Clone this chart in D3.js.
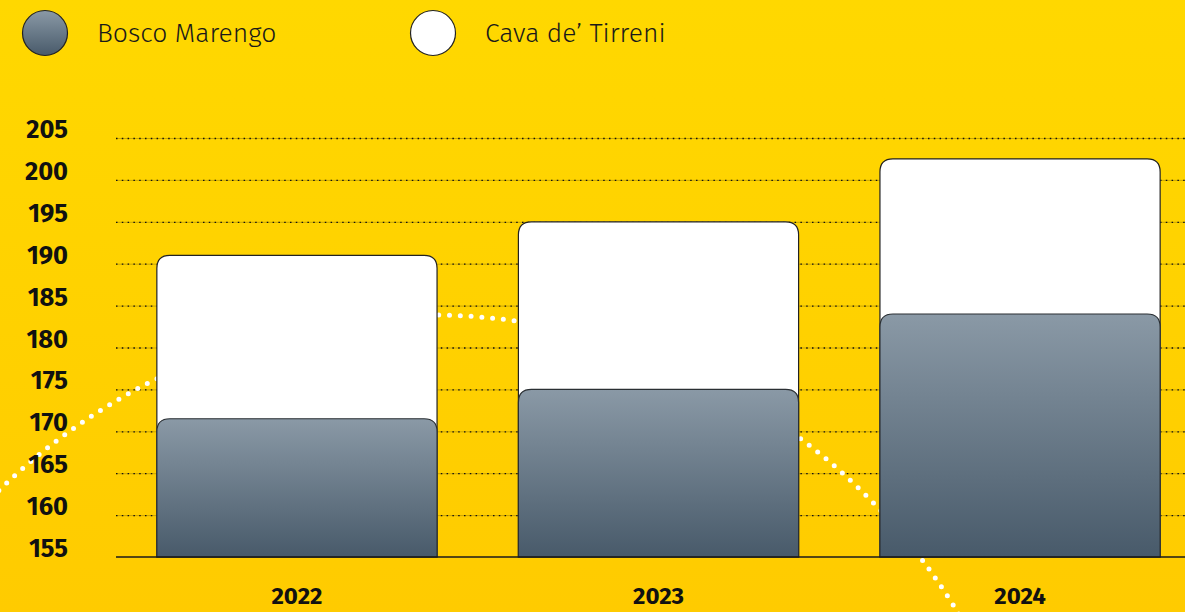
<!DOCTYPE html>
<html lang="it">
<head>
<meta charset="UTF-8">
<title>Bosco Marengo vs Cava de' Tirreni</title>
<script src="https://d3js.org/d3.v7.min.js"></script>
<style>
  html, body { margin: 0; padding: 0; }
  body { width: 1185px; height: 612px; overflow: hidden; }
</style>
</head>
<body>
<div id="chart"></div>
<script>
// data
const years = ["2022", "2023", "2024"];
const boscoMarengo = [171.5, 175, 184];
const cavaDeTirreni = [191, 195, 202.5];
const yTicks = [155, 160, 165, 170, 175, 180, 185, 190, 195, 200, 205];
const seriesNames = ["Bosco Marengo", "Cava de\u2019 Tirreni"];

const width = 1185, height = 612;
const font = "'Fira Sans', 'Open Sans', 'Noto Sans', sans-serif";

const svg = d3.select("#chart").append("svg")
  .attr("width", width).attr("height", height);

const defs = svg.append("defs");

// yellow background gradient
const bg = defs.append("linearGradient").attr("id", "bg")
  .attr("x1", 0).attr("y1", 0).attr("x2", 0).attr("y2", 1);
bg.append("stop").attr("offset", "0%").attr("stop-color", "#ffd800");
bg.append("stop").attr("offset", "100%").attr("stop-color", "#ffcb00");

// grey bar gradient
const grey = defs.append("linearGradient").attr("id", "grey")
  .attr("x1", 0).attr("y1", 0).attr("x2", 0).attr("y2", 1);
grey.append("stop").attr("offset", "0%").attr("stop-color", "#8a99a6");
grey.append("stop").attr("offset", "100%").attr("stop-color", "#485a6a");

svg.append("rect").attr("width", width).attr("height", height).attr("fill", "url(#bg)");

// scales
const y = d3.scaleLinear().domain([155, 205]).range([557, 138]);
const x = d3.scaleBand().domain(years).range([116, 1201])
  .paddingInner(0.225).paddingOuter(0.113);

// grid lines (dotted)
const grid = svg.append("g");
grid.selectAll("line.faint")
  .data(yTicks.filter(d => d !== 155))
  .join("line")
  .attr("class", "faint")
  .attr("x1", 116).attr("x2", width)
  .attr("y1", d => y(d) + 0.5).attr("y2", d => y(d) + 0.5)
  .attr("stroke", "#000").attr("stroke-opacity", 0.35).attr("stroke-width", 0.6);
grid.selectAll("line.dots")
  .data(yTicks.filter(d => d !== 155))
  .join("line")
  .attr("class", "dots")
  .attr("x1", 116).attr("x2", width)
  .attr("y1", d => y(d) + 0.5).attr("y2", d => y(d) + 0.5)
  .attr("stroke", "#111").attr("stroke-width", 1.3)
  .attr("stroke-dasharray", "1.5 4.3");

// decorative dotted arc behind the bars
svg.append("circle")
  .attr("cx", 430).attr("cy", 932).attr("r", 617)
  .attr("fill", "none")
  .attr("stroke", "#fff").attr("stroke-width", 5)
  .attr("stroke-linecap", "round")
  .attr("stroke-dasharray", "0 10.8");

// rounded-top bar path
function topRounded(x0, y0, w, h, r) {
  r = Math.min(r, h, w / 2);
  return `M${x0},${y0 + h}V${y0 + r}Q${x0},${y0} ${x0 + r},${y0}` +
    `H${x0 + w - r}Q${x0 + w},${y0} ${x0 + w},${y0 + r}V${y0 + h}Z`;
}

const bars = svg.append("g");
bars.selectAll("path.cava")
  .data(years.map((yr, i) => ({ yr, v: cavaDeTirreni[i] })))
  .join("path")
  .attr("class", "cava")
  .attr("d", d => topRounded(x(d.yr), y(d.v), x.bandwidth(), y(155) - y(d.v), 13))
  .attr("fill", "#fff").attr("stroke", "#222").attr("stroke-width", 1.2);

bars.selectAll("path.bosco")
  .data(years.map((yr, i) => ({ yr, v: boscoMarengo[i] })))
  .join("path")
  .attr("class", "bosco")
  .attr("d", d => topRounded(x(d.yr), y(d.v), x.bandwidth(), y(155) - y(d.v), 13))
  .attr("fill", "url(#grey)").attr("stroke", "#2a2f33").attr("stroke-width", 1.2);

// baseline
svg.append("line")
  .attr("x1", 116).attr("x2", width)
  .attr("y1", y(155)).attr("y2", y(155))
  .attr("stroke", "#1a1a1a").attr("stroke-width", 1.5);

// y tick labels
svg.append("g").selectAll("text")
  .data(yTicks)
  .join("text")
  .attr("x", 68).attr("y", d => y(d))
  .attr("text-anchor", "end")
  .attr("font-family", font).attr("font-weight", 700).attr("font-size", 25.5)
  .attr("fill", "#111")
  .text(d => d);

// x labels
svg.append("g").selectAll("text")
  .data(years)
  .join("text")
  .attr("x", d => x(d) + x.bandwidth() / 2).attr("y", 604)
  .attr("text-anchor", "middle")
  .attr("font-family", font).attr("font-weight", 700).attr("font-size", 24)
  .attr("fill", "#111")
  .text(d => d);

// legend
const legendX = [45, 433];
const legendFill = ["url(#grey)", "#fff"];
const legend = svg.append("g").selectAll("g")
  .data(seriesNames)
  .join("g")
  .attr("transform", (d, i) => `translate(${legendX[i]},33)`);
legend.append("circle")
  .attr("r", 22.5)
  .attr("fill", (d, i) => legendFill[i])
  .attr("stroke", "#222").attr("stroke-width", 1.2);
legend.append("text")
  .attr("x", 52).attr("y", 9)
  .attr("font-family", font).attr("font-weight", 300).attr("font-size", 26.5)
  .attr("fill", "#1a1a1a")
  .text(d => d);
</script>
</body>
</html>
